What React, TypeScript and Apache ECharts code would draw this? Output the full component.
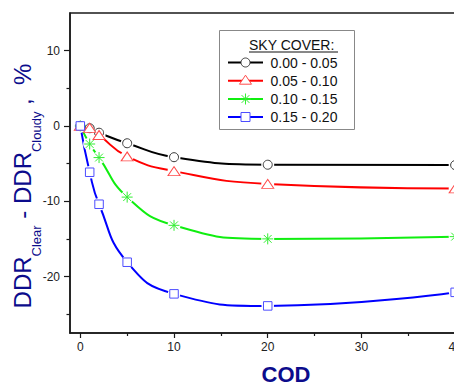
import React, { useEffect, useRef } from "react";
import * as echarts from "echarts";

// ---- data ----
const COD = [0, 1, 2, 5, 10, 20, 40];
const SKY_A = [0, -0.3, -0.9, -2.3, -4.15, -5.15, -5.2]; // 0.00 - 0.05
const SKY_B = [0, -0.25, -1.2, -4.05, -6.0, -7.7, -8.3]; // 0.05 - 0.10
const SKY_C = [0, -2.4, -4.2, -9.45, -13.2, -15.0, -14.7]; // 0.10 - 0.15
const SKY_D = [0, -6.15, -10.4, -18.1, -22.3, -23.9, -22.1]; // 0.15 - 0.20
const SKY_LABELS = ["0.00 - 0.05", "0.05 - 0.10", "0.10 - 0.15", "0.15 - 0.20"];
const LEGEND_TITLE = "SKY COVER:";
const X_MAJOR = [0, 10, 20, 30, 40];
const X_MINOR = [5, 15, 25, 35];
const Y_MAJOR = [-20, -10, 0, 10];
const Y_MINOR = [-25, -15, -5, 5];
const X_TITLE = "COD";

const FONT = "'Liberation Sans', Arial, sans-serif";
const NAVY = "#0c0c8c";
const STAR_PATH = "path://M0 5L10 5M5 0L5 10M1.46 1.46L8.54 8.54M8.54 1.46L1.46 8.54";

const STYLES = [
  { line: "#000000", mark: "#3a3a3a", symbol: "circle", size: 9, mask: 13 },
  { line: "#ff0000", mark: "#ff4a4a", symbol: "triangle", size: [12, 9], mask: 13 },
  { line: "#10ee10", mark: "#33ee33", symbol: STAR_PATH, size: 11, mask: 13 },
  { line: "#0000ff", mark: "#4d4dff", symbol: "rect", size: 8.5, mask: 12.5 },
];

export default function App() {
  const ref = useRef<HTMLDivElement>(null);
  useEffect(() => {
    if (!ref.current) return;
    const chart = echarts.init(ref.current, undefined, { renderer: "svg" });
    const groups = [SKY_A, SKY_B, SKY_C, SKY_D];
    const pts = groups.map((g) => COD.map((x, i) => [x, g[i]]));

    const lineSeries = pts.map((d, i) => ({
      type: "line",
      data: d,
      smooth: true,
      symbol: "none",
      showSymbol: false,
      lineStyle: { color: STYLES[i].line, width: 2 },
      z: 2,
      silent: true,
    }));
    const maskSeries = pts.map((d, i) => ({
      type: "scatter",
      data: d,
      symbol: "circle",
      symbolSize: STYLES[i].mask,
      itemStyle: { color: "#ffffff", borderWidth: 0, opacity: 1 },
      z: 3,
      silent: true,
    }));
    const markSeries = pts.map((d, i) => ({
      type: "scatter",
      data: d,
      symbol: STYLES[i].symbol,
      symbolSize: STYLES[i].size,
      itemStyle: {
        color: i === 2 ? STYLES[i].mark : "#ffffff",
        borderColor: STYLES[i].mark,
        borderWidth: 1,
        opacity: 1,
      },
      z: 4,
      silent: true,
    }));

    // legend (graphic)
    const rowsY = [62.5, 80.7, 99, 117];
    const legendEls: any[] = [
      {
        type: "rect",
        shape: { x: 219.5, y: 30.5, width: 135, height: 99 },
        style: { fill: "#fff", stroke: "#888", lineWidth: 1 },
        z: 10,
      },
      {
        type: "text",
        x: 249,
        y: 44.5,
        style: { text: LEGEND_TITLE, fontSize: 14, fontFamily: FONT, fill: "#111", align: "left", verticalAlign: "middle" },
        z: 11,
      },
      {
        type: "line",
        shape: { x1: 249, y1: 52, x2: 338, y2: 52 },
        style: { stroke: "#111", lineWidth: 1 },
        z: 11,
      },
    ];
    rowsY.forEach((y, i) => {
      const s = STYLES[i];
      legendEls.push({
        type: "line",
        shape: { x1: 228, y1: y, x2: 263, y2: y },
        style: { stroke: s.line, lineWidth: 2 },
        z: 11,
      });
      const cx = 245.5;
      if (i === 0) {
        legendEls.push({ type: "circle", shape: { cx, cy: y, r: 4.5 }, style: { fill: "#fff", stroke: s.mark, lineWidth: 1 }, z: 12 });
      } else if (i === 1) {
        legendEls.push({
          type: "polygon",
          shape: { points: [[cx, y - 5.5], [cx + 6, y + 3.5], [cx - 6, y + 3.5]] },
          style: { fill: "#fff", stroke: s.mark, lineWidth: 1 },
          z: 12,
        });
      } else if (i === 2) {
        const r = 5.5;
        const d = r * 0.707;
        [[-r, 0, r, 0], [0, -r, 0, r], [-d, -d, d, d], [d, -d, -d, d]].forEach((p) =>
          legendEls.push({
            type: "line",
            shape: { x1: cx + p[0], y1: y + p[1], x2: cx + p[2], y2: y + p[3] },
            style: { stroke: s.mark, lineWidth: 1 },
            z: 12,
          })
        );
      } else {
        legendEls.push({ type: "rect", shape: { x: cx - 4.5, y: y - 4.5, width: 9, height: 9 }, style: { fill: "#fff", stroke: s.mark, lineWidth: 1 }, z: 12 });
      }
      legendEls.push({
        type: "text",
        x: 270.5,
        y: y,
        style: { text: SKY_LABELS[i], fontSize: 14, fontFamily: FONT, fill: "#111", align: "left", verticalAlign: "middle" },
        z: 11,
      });
    });

    const titleEls: any[] = [
      {
        type: "text",
        x: 22.5,
        y: 186,
        rotation: Math.PI / 2,
        style: {
          text: "{b|DDR}{s|Clear}{b| - DDR}{s|Cloudy}{b| ,  %}",
          align: "center",
          verticalAlign: "middle",
          rich: {
            b: { fontSize: 24, lineHeight: 40, fontFamily: FONT, fill: NAVY, verticalAlign: "middle" },
            s: { fontSize: 13, lineHeight: 13, fontFamily: FONT, fill: NAVY, verticalAlign: "bottom" },
          },
        },
      },
      {
        type: "text",
        x: 286,
        y: 374,
        style: {
          text: X_TITLE,
          fontSize: 22,
          lineHeight: 16,
          fontWeight: "bold",
          fontFamily: FONT,
          fill: NAVY,
          align: "center",
          verticalAlign: "middle",
        },
      },
    ];

    const axisLine = { show: true, onZero: false, lineStyle: { color: "#1a1a1a", width: 1.5 } };
    const label = { color: "#222", fontSize: 12, fontFamily: FONT };
    const tickStyle = { color: "#1a1a1a", width: 1.2 };

    chart.setOption({
      animation: false,
      backgroundColor: "#fff",
      grid: {
        left: 70,
        top: 13,
        right: 38,
        bottom: 50,
        show: true,
        borderColor: "#1a1a1a",
        borderWidth: 1.5,
        outerBoundsMode: "none",
        containLabel: false,
      },
      xAxis: [
        {
          type: "value",
          min: -1.1,
          max: 45,
          position: "bottom",
          axisLine,
          axisTick: { show: true, customValues: X_MAJOR, length: 5, lineStyle: tickStyle },
          axisLabel: { ...label, customValues: X_MAJOR, margin: 8 },
          splitLine: { show: false },
        },
        {
          type: "value",
          min: -1.1,
          max: 45,
          position: "bottom",
          axisLine: { show: false, onZero: false },
          axisTick: { show: true, customValues: X_MINOR, length: 3, lineStyle: tickStyle },
          axisLabel: { show: false },
          splitLine: { show: false },
        },
      ],
      yAxis: [
        {
          type: "value",
          min: -27.5,
          max: 15,
          position: "left",
          axisLine,
          axisTick: { show: true, customValues: Y_MAJOR, length: 6, lineStyle: tickStyle },
          axisLabel: { ...label, customValues: Y_MAJOR, margin: 10 },
          splitLine: { show: false },
        },
        {
          type: "value",
          min: -27.5,
          max: 15,
          position: "left",
          axisLine: { show: false, onZero: false },
          axisTick: { show: true, customValues: Y_MINOR, length: 3.5, lineStyle: tickStyle },
          axisLabel: { show: false },
          splitLine: { show: false },
        },
      ],
      graphic: [...titleEls, ...legendEls],
      series: [...lineSeries, ...maskSeries, ...markSeries],
    });
    return () => chart.dispose();
  }, []);

  return (
    <div style={{ position: "fixed", left: 0, top: 0, width: 454, height: 383, overflow: "hidden", background: "#fff" }}>
      <div ref={ref} style={{ width: 540, height: 383 }} />
    </div>
  );
}
